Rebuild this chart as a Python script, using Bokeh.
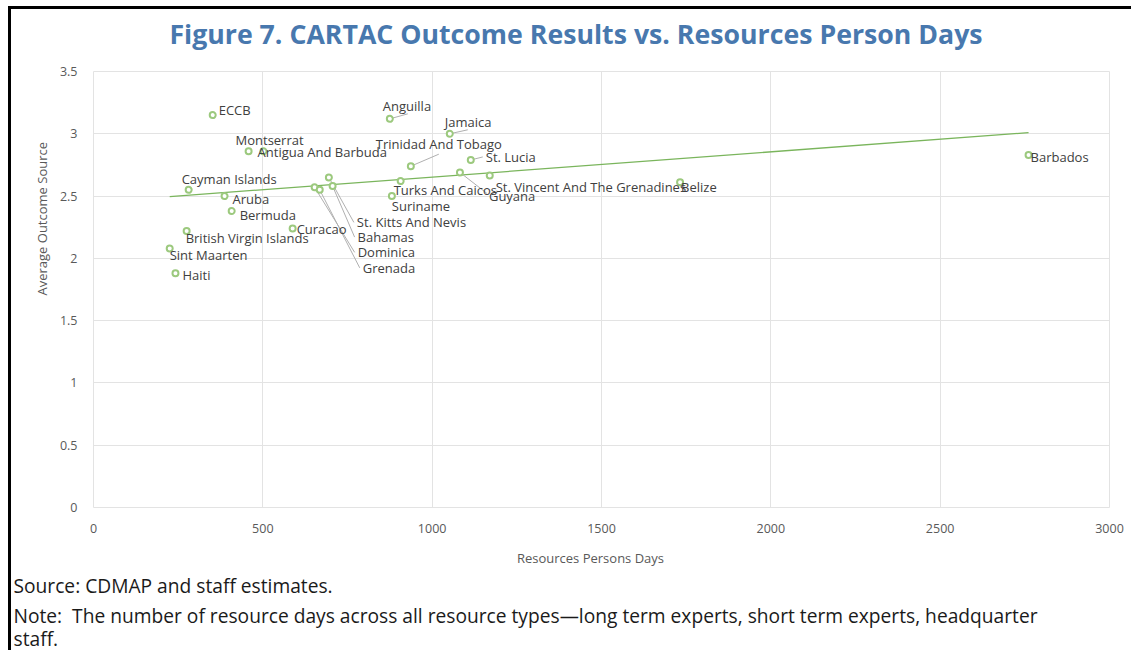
import numpy as np
from bokeh.plotting import figure
from bokeh.layouts import column
from bokeh.models import ColumnDataSource, Range1d, FixedTicker, InlineStyleSheet, Title, Label
from bokeh.embed import file_html
from bokeh.resources import INLINE
from bokeh.core.properties import value

# ---------------- data ----------------
countries = ["ECCB", "Anguilla", "Jamaica", "Montserrat", "Antigua And Barbuda",
             "Trinidad And Tobago", "St. Lucia", "Cayman Islands", "Aruba", "Bermuda",
             "British Virgin Islands", "Curacao", "Sint Maarten", "Haiti",
             "Turks And Caicos", "Suriname", "Guyana", "St. Vincent And The Grenadines",
             "Belize", "Barbados", "St. Kitts And Nevis", "Bahamas", "Dominica", "Grenada"]
person_days = [352, 875, 1052, 502, 458,
               937, 1114, 281, 387, 408,
               275, 588, 225, 242,
               907, 881, 1082, 1170,
               1732, 2761, 695, 706, 653, 668]
outcome = [3.15, 3.12, 3.00, 2.86, 2.86,
           2.74, 2.79, 2.55, 2.50, 2.38,
           2.22, 2.24, 2.08, 1.88,
           2.62, 2.50, 2.69, 2.665,
           2.61, 2.83, 2.65, 2.58, 2.57, 2.55]

x_ticks = [0, 500, 1000, 1500, 2000, 2500, 3000]
x_tick_labels = ["0", "500", "1000", "1500", "2000", "2500", "3000"]
y_ticks = [0, 0.5, 1, 1.5, 2, 2.5, 3, 3.5]
y_tick_labels = ["0", "0.5", "1", "1.5", "2", "2.5", "3", "3.5"]

title_text = "Figure 7. CARTAC Outcome Results vs. Resources Person Days"
x_title = "Resources Persons Days"
y_title = "Average Outcome Source"
source_text = "Source: CDMAP and staff estimates."
note_text1 = "Note:\u00a0 The number of resource days across all resource types\u2014long term experts, short term experts, headquarter"
note_text2 = "staff."

# ---------------- label placement (screen px, relative to point) ----------------
label_dx = [6, -7, -5, -28, 9,
            -35, 15, -7, 8, 8,
            -1, 4, 0, 7,
            -7, 0, 29, 6,
            1, 2, 28, 25, 43, 43]
label_dy = [-5, -13, -12, -11, 1,
            -22, -3, -11, 3, 4,
            7, 1, 7, 2,
            9, 10, 24, 11,
            5, 2, 45, 51, 65, 78]
NaN = float("nan")
leader_dx = [NaN, 18, 18, NaN, NaN,
             28, 12, NaN, NaN, NaN,
             NaN, NaN, NaN, NaN,
             NaN, NaN, 27, NaN,
             NaN, NaN, 25, 22, 40, 40]
leader_dy = [NaN, -5, -4, NaN, NaN,
             -12, -3, NaN, NaN, NaN,
             NaN, NaN, NaN, NaN,
             NaN, NaN, 21, NaN,
             NaN, NaN, 45, 51, 65, 78]

# ---------------- layout ----------------
W = 1120
H_TOP, H_MAIN, H_FOOT = 51, 480, 110
FL, FR, FT, FB = 82, 22, 11, 33
frame_w = W - FL - FR
frame_h = H_MAIN - FT - FB
X0, X1 = 0, 3000
Y0, Y1 = 0, 3.5

FONT = "Open Sans"


def text_panel(height):
    f = figure(width=W, height=height, x_range=Range1d(0, 1), y_range=Range1d(0, 1),
               output_backend="svg", toolbar_location=None,
               x_axis_type=None, y_axis_type=None,
               min_border_left=0, min_border_right=0, min_border_top=0, min_border_bottom=0)
    f.outline_line_color = None
    f.background_fill_color = "white"
    f.border_fill_color = "white"
    if hasattr(f, "frame_align"):
        f.frame_align = False
    return f


# ---- title panel ----
p0 = text_panel(H_TOP)
p0.add_layout(Label(x=564.5, y=H_TOP - 24, x_units="screen", y_units="screen",
                    text=title_text, text_align="center", text_baseline="middle",
                    text_font=FONT, text_font_size="26.7px", text_font_style="bold",
                    text_color="#4878ae"))

# ---- main chart ----
p = figure(width=W, height=H_MAIN, x_range=Range1d(X0, X1), y_range=Range1d(Y0, Y1),
           output_backend="svg", toolbar_location=None,
           min_border_left=FL, min_border_right=FR, min_border_top=FT, min_border_bottom=FB)
p.background_fill_color = "white"
p.border_fill_color = "white"
p.outline_line_color = "#e3e3e3"
if hasattr(p, "frame_align"):
    p.frame_align = False

for ax in (p.xaxis[0], p.yaxis[0]):
    ax.axis_line_color = None
    ax.major_tick_line_color = None
    ax.minor_tick_line_color = None
    ax.major_label_text_font = FONT
    ax.major_label_text_font_size = "12.5px"
    ax.major_label_text_color = "#595959"

p.xaxis.ticker = FixedTicker(ticks=x_ticks)
p.xaxis.major_label_overrides = {t: l for t, l in zip(x_ticks, x_tick_labels)}
p.xaxis.major_label_standoff = 10
p.yaxis.ticker = FixedTicker(ticks=y_ticks)
p.yaxis.major_label_overrides = {t: l for t, l in zip(y_ticks, y_tick_labels)}
p.yaxis.major_label_standoff = 10

p.xgrid.ticker = FixedTicker(ticks=x_ticks)
p.ygrid.ticker = FixedTicker(ticks=y_ticks)
p.xgrid.grid_line_color = "#e3e3e3"
p.ygrid.grid_line_color = "#e3e3e3"

# trendline (least squares)
xs = np.array(person_days, dtype=float)
ys = np.array(outcome, dtype=float)
slope, intercept = np.polyfit(xs, ys, 1)
tx = np.array([xs.min(), xs.max()])
p.line(tx, slope * tx + intercept, line_color="#7ab55c", line_width=1.3)

# leader lines
ux = (X1 - X0) / frame_w
uy = (Y1 - Y0) / frame_h
ldx = np.array(leader_dx)
ldy = np.array(leader_dy)
mask = ~np.isnan(ldx)
lsrc = ColumnDataSource(dict(x0=xs[mask], y0=ys[mask],
                             x1=xs[mask] + ldx[mask] * ux,
                             y1=ys[mask] - ldy[mask] * uy))
p.segment(x0="x0", y0="y0", x1="x1", y1="y1", source=lsrc,
          line_color="#b0b0b0", line_width=1)

src = ColumnDataSource(dict(x=person_days, y=outcome, name=countries,
                            dx=label_dx, dy=label_dy))
p.scatter(x="x", y="y", source=src, marker="circle", size=6,
          fill_color="white", line_color="#9cc97e", line_width=2)
p.text(x="x", y="y", text="name", source=src, x_offset="dx", y_offset="dy",
       text_font=value(FONT), text_font_size="13px", text_color="#404040",
       text_align="left", text_baseline="middle")

p.add_layout(Title(text=y_title, align="left", offset=212, standoff=12,
                   text_font=FONT, text_font_size="13px", text_font_style="normal",
                   text_color="#595959"), "left")

# ---- footer panel (x-axis title, source and note) ----
p2 = text_panel(H_FOOT)
p2.add_layout(Label(x=579, y=H_FOOT - 17, x_units="screen", y_units="screen",
                    text=x_title, text_align="center", text_baseline="middle",
                    text_font=FONT, text_font_size="13px", text_color="#595959"))
for txt, yy in ((source_text, 45), (note_text1, 75), (note_text2, 98)):
    p2.add_layout(Label(x=2, y=H_FOOT - yy, x_units="screen", y_units="screen",
                        text=txt, text_align="left", text_baseline="middle",
                        text_font=FONT, text_font_size="19.2px", text_color="#1a1a1a"))

layout = column(p0, p, p2, spacing=0)
layout.stylesheets = [InlineStyleSheet(css=":host { margin: 6px 0 0 8px; border-top: 3px solid black; border-left: 3px solid black; }")]

open("out.html", "w").write(file_html(layout, INLINE))
